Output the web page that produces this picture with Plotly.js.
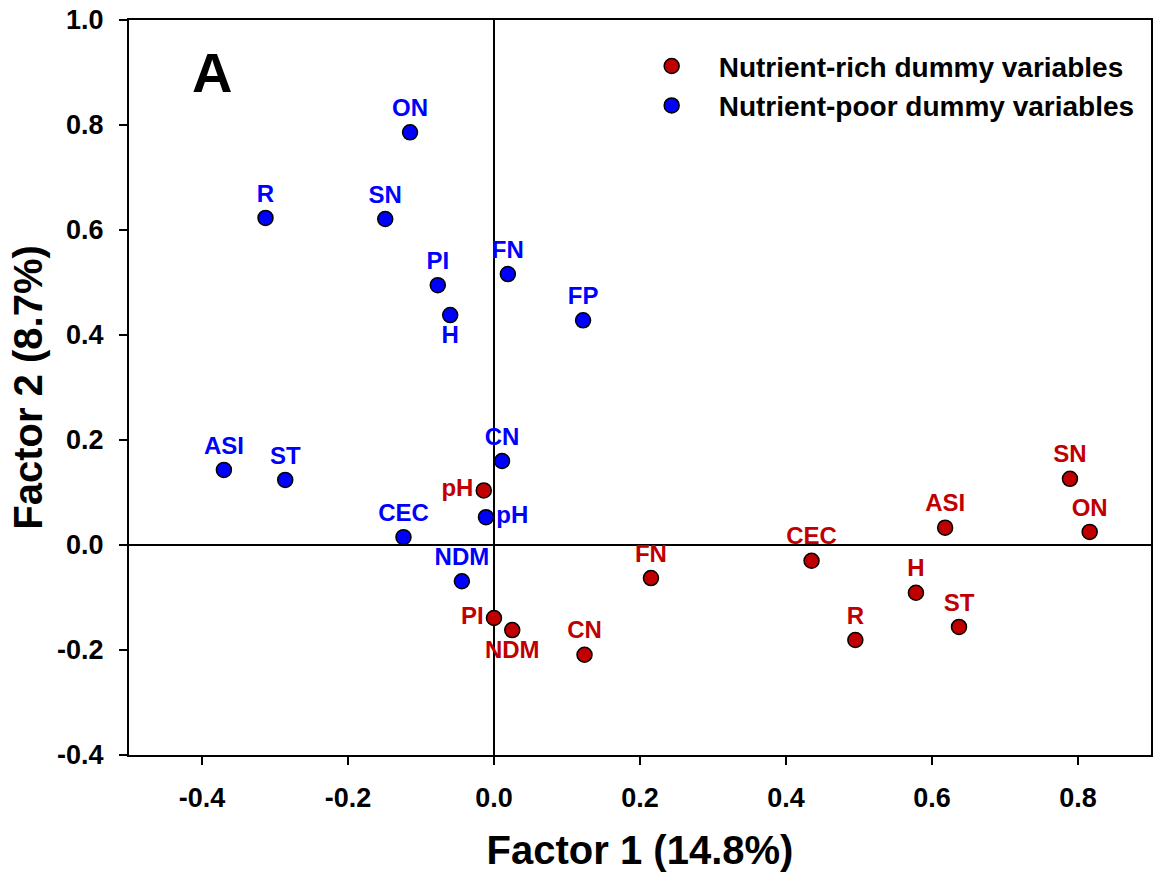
<!DOCTYPE html>
<html>
<head>
<meta charset="utf-8">
<script src="https://cdn.plot.ly/plotly-3.0.1.min.js"></script>
<style>html,body{margin:0;padding:0;background:#fff;}#chart{width:1159px;height:878px;}</style>
</head>
<body>
<div id="chart"></div>
<script>
// Nutrient-rich dummy variables (red)
const richLabels = ["pH", "PI", "NDM", "CN", "FN", "CEC", "R", "H", "ST", "ASI", "SN", "ON"];
const richX = [-0.014, 0.000, 0.025, 0.124, 0.215, 0.435, 0.495, 0.578, 0.637, 0.618, 0.789, 0.816];
const richY = [0.104, -0.139, -0.162, -0.209, -0.063, -0.030, -0.181, -0.091, -0.156, 0.033, 0.126, 0.025];
const richPos = ["middle left", "middle left", "bottom center", "top center", "top center", "top center",
                 "top center", "top center", "top center", "top center", "top center", "top center"];

// Nutrient-poor dummy variables (blue)
const poorLabels = ["ON", "R", "SN", "PI", "FN", "FP", "H", "ASI", "ST", "CN", "CEC", "pH", "NDM"];
const poorX = [-0.115, -0.313, -0.149, -0.077, 0.019, 0.122, -0.060, -0.370, -0.286, 0.011, -0.124, -0.011, -0.044];
const poorY = [0.786, 0.623, 0.621, 0.495, 0.516, 0.428, 0.438, 0.143, 0.124, 0.160, 0.015, 0.053, -0.069];
const poorPos = ["top center", "top center", "top center", "top center", "top center", "top center",
                 "bottom center", "top center", "top center", "top center", "top center", "middle right", "top center"];

const xTickVals = [-0.4, -0.2, 0.0, 0.2, 0.4, 0.6, 0.8];
const xTickText = ["-0.4", "-0.2", "0.0", "0.2", "0.4", "0.6", "0.8"];
const yTickVals = [-0.4, -0.2, 0.0, 0.2, 0.4, 0.6, 0.8, 1.0];
const yTickText = ["-0.4", "-0.2", "0.0", "0.2", "0.4", "0.6", "0.8", "1.0"];

const RED = "#C00000";
const BLUE = "#0000FF";
const FONT = "Liberation Sans, Arial, sans-serif";

const traces = [
  {
    type: "scatter", mode: "markers+text", name: "Nutrient-rich dummy variables",
    x: richX, y: richY, text: richLabels, textposition: richPos,
    textfont: {family: FONT, size: 24, color: RED, weight: "bold"},
    marker: {size: 15, color: RED, line: {color: "#000", width: 1.5}},
    cliponaxis: false, hoverinfo: "skip"
  },
  {
    type: "scatter", mode: "markers+text", name: "Nutrient-poor dummy variables",
    x: poorX, y: poorY, text: poorLabels, textposition: poorPos,
    textfont: {family: FONT, size: 24, color: BLUE, weight: "bold"},
    marker: {size: 15, color: BLUE, line: {color: "#000", width: 1.5}},
    cliponaxis: false, hoverinfo: "skip"
  }
];

const axisCommon = {
  showgrid: false, showline: true, mirror: true, linecolor: "#000", linewidth: 2,
  ticks: "outside", ticklen: 8, tickwidth: 2, tickcolor: "#000",
  zeroline: true, zerolinecolor: "#000", zerolinewidth: 2,
  tickfont: {family: FONT, size: 27, color: "#000", weight: "bold"},
  ticklabelstandoff: 10,
  automargin: false
};

const layout = {
  width: 1159, height: 878,
  margin: {l: 129, r: 8, t: 20, b: 123},
  paper_bgcolor: "#fff", plot_bgcolor: "#fff",
  showlegend: true,
  legend: {
    x: 0.485, y: 0.971, xanchor: "left", yanchor: "top",
    font: {family: FONT, size: 28, color: "#000", weight: "bold"},
    bgcolor: "rgba(0,0,0,0)", itemwidth: 84, tracegroupgap: 0
  },
  xaxis: Object.assign({}, axisCommon, {
    range: [-0.5, 0.9], tickvals: xTickVals, ticktext: xTickText,
    title: {text: "Factor 1 (14.8%)", font: {family: FONT, size: 40, color: "#000", weight: "bold"}, standoff: 24}
  }),
  yaxis: Object.assign({}, axisCommon, {
    range: [-0.4, 1.0], tickvals: yTickVals, ticktext: yTickText,
    title: {text: "Factor 2 (8.7%)", font: {family: FONT, size: 40, color: "#000", weight: "bold"}, standoff: 2}
  }),
  annotations: [
    {text: "A", xref: "paper", yref: "paper", x: 0.081, y: 0.928, xanchor: "center", yanchor: "middle",
     showarrow: false, font: {family: FONT, size: 56, color: "#000", weight: "bold"}}
  ]
};

Plotly.newPlot("chart", traces, layout, {displayModeBar: false, staticPlot: true});
</script>
</body>
</html>
